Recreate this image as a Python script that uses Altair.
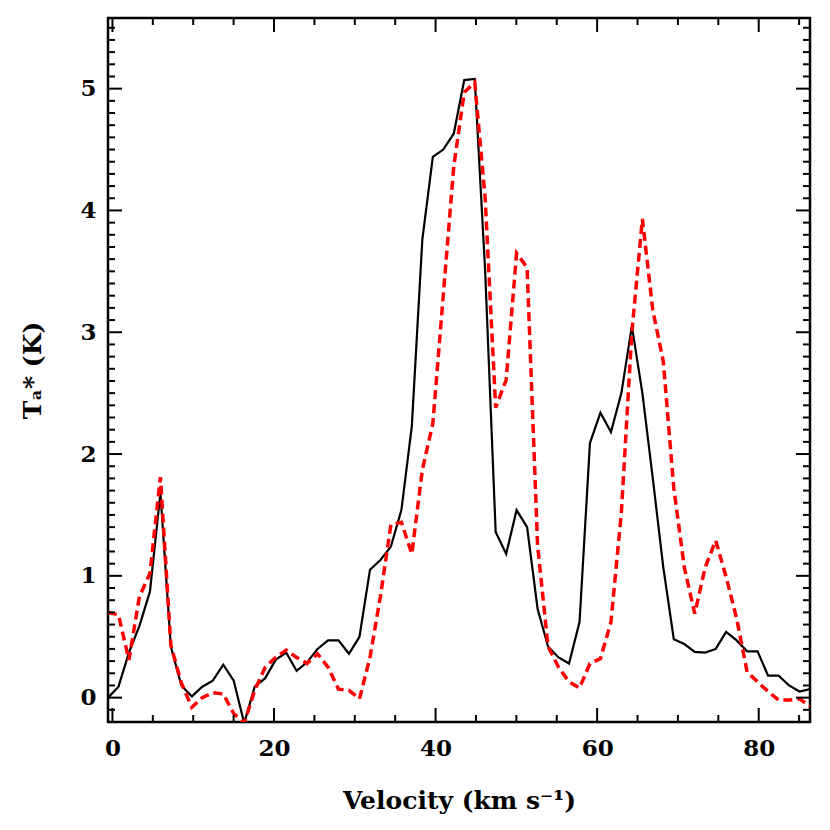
import altair as alt
import pandas as pd

# Velocity channels (km/s)
velocity = [-0.55, 0.75, 2.04, 3.34, 4.64, 5.94, 7.23, 8.53, 9.83, 11.12,
            12.42, 13.72, 15.01, 16.31, 17.61, 18.91, 20.20, 21.50, 22.80, 24.09,
            25.39, 26.69, 27.98, 29.28, 30.58, 31.88, 33.17, 34.47, 35.77, 37.06,
            38.36, 39.66, 40.95, 42.25, 43.55, 44.85, 46.14, 47.44, 48.74, 50.03,
            51.33, 52.63, 53.92, 55.22, 56.52, 57.82, 59.11, 60.41, 61.71, 63.00,
            64.30, 65.60, 66.89, 68.19, 69.49, 70.79, 72.08, 73.38, 74.68, 75.97,
            77.27, 78.57, 79.86, 81.16, 82.46, 83.76, 85.05, 86.35]

# Solid black spectrum (Ta*, K)
black_t = [0.00, 0.09, 0.37, 0.59, 0.87, 1.68, 0.42, 0.10, 0.01, 0.09,
           0.14, 0.27, 0.14, -0.21, 0.09, 0.16, 0.31, 0.37, 0.22, 0.29,
           0.40, 0.47, 0.47, 0.36, 0.50, 1.05, 1.13, 1.24, 1.54, 2.23,
           3.76, 4.44, 4.50, 4.63, 5.07, 5.08, 3.50, 1.36, 1.18, 1.54,
           1.40, 0.73, 0.42, 0.33, 0.28, 0.62, 2.09, 2.34, 2.18, 2.50,
           3.05, 2.50, 1.80, 1.07, 0.48, 0.44, 0.375, 0.37, 0.40, 0.54,
           0.47, 0.38, 0.38, 0.18, 0.18, 0.10, 0.05, 0.07]

# Dashed red spectrum (Ta*, K)
red_t = [0.70, 0.68, 0.31, 0.83, 1.02, 1.81, 0.43, 0.12, -0.08, 0.00,
         0.04, 0.03, -0.13, -0.21, 0.06, 0.25, 0.33, 0.39, 0.33, 0.28,
         0.36, 0.25, 0.07, 0.06, -0.01, 0.33, 0.83, 1.42, 1.44, 1.18,
         1.87, 2.25, 3.30, 4.36, 4.97, 5.05, 4.10, 2.38, 2.61, 3.65,
         3.53, 1.25, 0.42, 0.25, 0.13, 0.08, 0.28, 0.32, 0.62, 1.52,
         3.00, 3.93, 3.18, 2.76, 1.72, 1.07, 0.69, 1.07, 1.29, 0.99,
         0.65, 0.21, 0.13, 0.05, -0.02, -0.02, -0.01, -0.07]

x_major = [0, 20, 40, 60, 80]
x_minor = [5, 10, 15, 25, 30, 35, 45, 50, 55, 65, 70, 75, 85]
y_major = [0, 1, 2, 3, 4, 5]
y_minor = [round(k * 0.1, 1) for k in range(-1, 56) if k % 10 != 0]

W, H = 702, 704
MAJ, MIN = 14, 7
FONT = "DejaVu Serif"

xscale = alt.Scale(domain=[-0.55, 86.35], nice=False, zero=False)
yscale = alt.Scale(domain=[-0.2, 5.58], nice=False, zero=False)

df_black = pd.DataFrame({"v": velocity, "t": black_t})
df_red = pd.DataFrame({"v": velocity, "t": red_t})

x_axis = alt.Axis(values=x_major, ticks=False, tickSize=0, domain=False, grid=False,
                  labelFont=FONT, labelFontSize=23, labelFontWeight="bold",
                  labelColor="black", labelPadding=15,
                  title="Velocity (km s\u207b\u00b9)", titleFont=FONT, titleFontSize=25,
                  titleFontWeight="bold", titleColor="black", titlePadding=28)
y_axis = alt.Axis(values=y_major, ticks=False, tickSize=0, domain=False, grid=False,
                  labelFont=FONT, labelFontSize=23, labelFontWeight="bold",
                  labelColor="black", labelPadding=12,
                  title="T\u2090* (K)", titleFont=FONT, titleFontSize=25,
                  titleFontWeight="bold", titleColor="black", titlePadding=34)

X = alt.X("v:Q", scale=xscale, axis=x_axis)
Y = alt.Y("t:Q", scale=yscale, axis=y_axis)

black_line = alt.Chart(df_black).mark_line(color="black", strokeWidth=2.2, clip=True).encode(
    x=X, y=Y)
red_line = alt.Chart(df_red).mark_line(color="#ff0000", strokeWidth=3.5,
                                       strokeDash=[9, 5], clip=True).encode(x=X, y=Y)


def xticks(vals, length):
    d = pd.DataFrame({"v": vals})
    bottom = alt.Chart(d).mark_rule(color="black", strokeWidth=2).encode(
        x=X, y=alt.value(H), y2=alt.value(H - length))
    top = alt.Chart(d).mark_rule(color="black", strokeWidth=2).encode(
        x=X, y=alt.value(0), y2=alt.value(length))
    return [bottom, top]


def yticks(vals, length):
    d = pd.DataFrame({"t": vals})
    left = alt.Chart(d).mark_rule(color="black", strokeWidth=2).encode(
        y=Y, x=alt.value(0), x2=alt.value(length))
    right = alt.Chart(d).mark_rule(color="black", strokeWidth=2).encode(
        y=Y, x=alt.value(W), x2=alt.value(W - length))
    return [left, right]


layers = [black_line, red_line] + xticks(x_major, MAJ) + xticks(x_minor, MIN) \
    + yticks(y_major, MAJ) + yticks(y_minor, MIN)

chart = alt.layer(*layers).properties(
    width=W, height=H,
    autosize=alt.AutoSizeParams(type="none"),
    padding={"left": 100, "top": 10, "right": 12, "bottom": 100},
    background="white",
).configure_view(stroke="black", strokeWidth=2.5)

chart.save("out.html", embed_options={"renderer": "svg", "actions": False})
